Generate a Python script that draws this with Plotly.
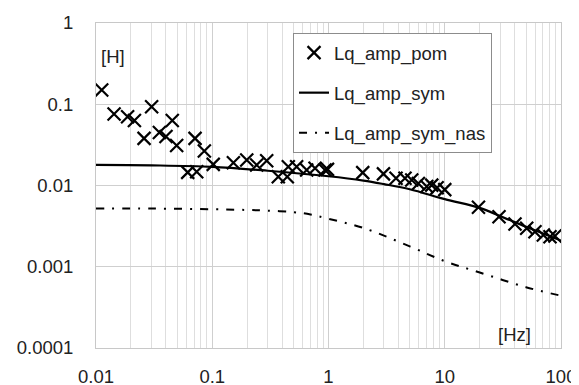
import plotly.graph_objects as go

# Measured points (Lq_amp_pom)
pom_f = [0.0112, 0.0143, 0.0187, 0.0214, 0.0259, 0.0301, 0.0351, 0.040, 0.0453, 0.0494,
         0.0615, 0.0711, 0.0735, 0.0855, 0.102, 0.152, 0.198, 0.241, 0.294, 0.370,
         0.442, 0.451, 0.532, 0.649, 0.766, 0.933, 0.98, 1.97, 2.97, 3.81, 4.55, 5.2,
         5.93, 7.0, 7.73, 8.6, 10.0, 19.5, 29.3, 40.2, 50.7, 59.7, 70.5, 80.4, 88.7]
pom_L = [0.150, 0.076, 0.070, 0.063, 0.038, 0.093, 0.045, 0.040, 0.063, 0.031,
         0.0145, 0.038, 0.0148, 0.0266, 0.0182, 0.0191, 0.0206, 0.0179, 0.0202, 0.0128,
         0.0128, 0.0170, 0.0170, 0.0155, 0.0163, 0.0155, 0.0158, 0.0144, 0.0139, 0.0123, 0.0123, 0.0117,
         0.0106, 0.0097, 0.0101, 0.0094, 0.0089, 0.0054, 0.00413, 0.00336, 0.00297, 0.0027, 0.00246, 0.00234, 0.00239]

# Simulated curve (Lq_amp_sym)
sym_f = [0.01, 0.03, 0.1, 0.3, 1, 2, 3, 5, 10, 20, 30, 50, 100]
sym_L = [0.0179, 0.0177, 0.0170, 0.0152, 0.0130, 0.0115, 0.0104, 0.0090, 0.0068, 0.0053, 0.0042, 0.0031, 0.0021]

# Simulated curve (Lq_amp_sym_nas)
nas_f = [0.01, 0.03, 0.1, 0.2, 0.3, 0.5, 0.7, 1, 2, 5, 10, 20, 50, 100]
nas_L = [0.0052, 0.0052, 0.0051, 0.0050, 0.0049, 0.0047, 0.0044, 0.0039, 0.0030, 0.00178, 0.00117, 0.00085, 0.00056, 0.00044]

x_ticks = [0.01, 0.1, 1, 10, 100]
x_tick_text = ["0.01", "0.1", "1", "10", "100"]
y_ticks = [0.0001, 0.001, 0.01, 0.1, 1]
y_tick_text = ["0.0001", "0.001", "0.01", "0.1", "1"]

FONT = "Liberation Sans"
FS = 18.5
TXT = "#222222"

fig = go.Figure()
fig.add_trace(go.Scatter(
    x=pom_f, y=pom_L, mode="markers", name="Lq_amp_pom", legendgroup="a",
    marker=dict(symbol="x-thin", size=13, color="black", line=dict(color="black", width=2.2)),
))
fig.add_trace(go.Scatter(
    x=sym_f, y=sym_L, mode="lines", name="Lq_amp_sym", legendgroup="b",
    line=dict(color="black", width=2.2, shape="spline"),
))
fig.add_trace(go.Scatter(
    x=nas_f, y=nas_L, mode="lines", name="Lq_amp_sym_nas", legendgroup="c",
    line=dict(color="black", width=2, dash="8px,8px,2px,8px", shape="spline"),
))

# The page body adds an 8px offset, so the figure is 8px smaller and margins compensate.
fig.update_layout(
    template="none",
    width=571, height=377, autosize=False,
    margin=dict(l=88, r=18, t=15, b=37, pad=0),
    paper_bgcolor="white", plot_bgcolor="white",
    font=dict(family=FONT, size=FS, color=TXT),
    showlegend=True,
    legend=dict(
        x=0.4237, y=0.969, xanchor="left", yanchor="top",
        bgcolor="white", bordercolor="#8c8c8c", borderwidth=1,
        font=dict(family=FONT, size=FS, color=TXT),
        tracegroupgap=13, traceorder="grouped",
    ),
    annotations=[
        dict(text="[H]", x=-1.975, y=-0.41, xref="x", yref="y", showarrow=False,
             xanchor="left", yanchor="middle", font=dict(size=FS, color=TXT)),
        dict(text="[Hz]", x=1.604, y=-3.83, xref="x", yref="y", showarrow=False,
             xanchor="center", yanchor="middle", font=dict(size=FS, color=TXT)),
    ],
)

fig.update_xaxes(
    type="log", range=[-2, 2], automargin=False,
    tickmode="array", tickvals=x_ticks, ticktext=x_tick_text,
    showgrid=True, gridcolor="#cfcfcf", gridwidth=1,
    minor=dict(dtick="D1", showgrid=True, gridcolor="#dedede", gridwidth=1, ticks=""),
    showline=True, linecolor="#c8c8c8", linewidth=1, mirror=True,
    ticks="", ticklabelstandoff=12, zeroline=False,
)
fig.update_yaxes(
    type="log", range=[-4, 0], automargin=False,
    tickmode="array", tickvals=y_ticks, ticktext=y_tick_text,
    showgrid=True, gridcolor="#cfcfcf", gridwidth=1,
    showline=True, linecolor="#c8c8c8", linewidth=1, mirror=True,
    ticks="", ticklabelstandoff=18, zeroline=False,
)

fig.write_html("out.html")
